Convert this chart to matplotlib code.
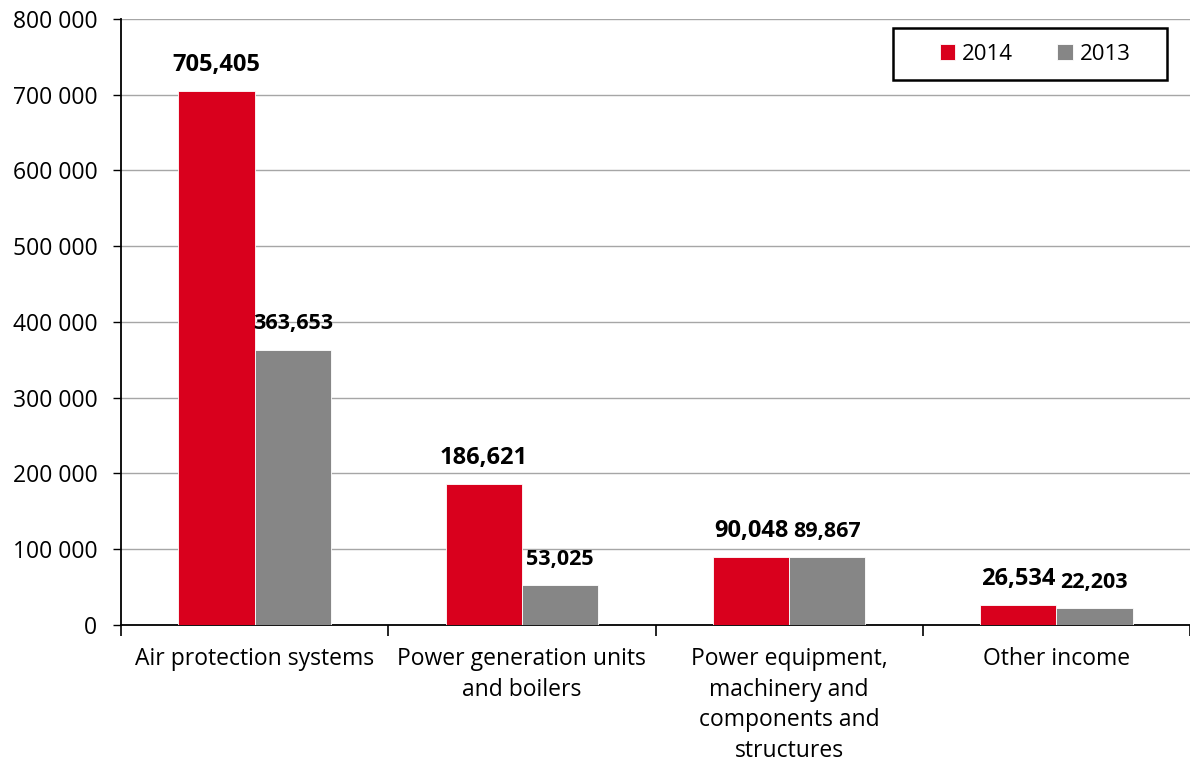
import matplotlib
matplotlib.use("Agg")
import matplotlib.pyplot as plt
from matplotlib.patches import Rectangle
import numpy as np

categories = ["Air protection systems", "Power generation units\nand boilers",
              "Power equipment,\nmachinery and\ncomponents and\nstructures", "Other income"]
values_2014 = [705405, 186621, 90048, 26534]
values_2013 = [363653, 53025, 89867, 22203]
y_ticks = [0, 100000, 200000, 300000, 400000, 500000, 600000, 700000, 800000]

RED = "#D9001D"
GRAY = "#868686"

plt.rcParams["font.family"] = ["Open Sans", "DejaVu Sans"]

fig = plt.figure(figsize=(11.9, 7.71), dpi=100)
ax = fig.add_axes([0.1017, 0.1894, 0.8983, 0.786])

x = np.arange(len(categories))
w = 0.285
b1 = ax.bar(x - w / 2, values_2014, w, color=RED, label="2014", zorder=3,
            edgecolor="white", linewidth=0.6)
b2 = ax.bar(x + w / 2, values_2013, w, color=GRAY, label="2013", zorder=3,
            edgecolor="white", linewidth=0.6)

for rect, v in zip(b1, values_2014):
    ax.annotate(f"{v:,}", (rect.get_x() + rect.get_width() / 2, v),
                xytext=(0, 10), textcoords="offset points", ha="center", va="bottom",
                fontsize=17, fontweight="bold")
for rect, v in zip(b2, values_2013):
    ax.annotate(f"{v:,}", (rect.get_x() + rect.get_width() / 2, v),
                xytext=(0, 11), textcoords="offset points", ha="center", va="bottom",
                fontsize=15.5, fontweight="bold")

ax.set_xlim(-0.5, len(categories) - 0.5)
ax.set_ylim(0, 800000)
ax.set_yticks(y_ticks)
ax.set_yticklabels([f"{t:,}".replace(",", " ") for t in y_ticks], fontsize=16.5)
ax.tick_params(axis="y", direction="out", length=6, width=1, pad=11)

# category ticks sit on the boundaries, labels centred under each group
ax.set_xticks(np.arange(len(categories) + 1) - 0.5)
ax.set_xticklabels([])
ax.set_xticks(x, minor=True)
ax.set_xticklabels(categories, minor=True, fontsize=16.5, linespacing=1.36, va="top")
ax.tick_params(axis="x", which="major", direction="out", length=8, width=1.2)
ax.tick_params(axis="x", which="minor", length=0, pad=16)

ax.grid(axis="y", color="#A6A6A6", linewidth=1, zorder=0)
ax.spines["top"].set_visible(False)
ax.spines["right"].set_visible(False)
ax.spines["left"].set_linewidth(1.3)
ax.spines["bottom"].set_linewidth(1.3)

# legend box drawn separately so the padding can be uneven
fig.patches.append(Rectangle((893 / 1190, 1 - 80 / 771), 274 / 1190, 52 / 771,
                             transform=fig.transFigure, facecolor="white",
                             edgecolor="black", linewidth=1.8, zorder=5))
leg = fig.legend(handles=[b1, b2], labels=["2014", "2013"], loc="center",
                 bbox_to_anchor=(1035 / 1190, 1 - 54 / 771), ncol=2, fontsize=16,
                 frameon=False, handlelength=0.7, handleheight=0.7,
                 handletextpad=0.3, columnspacing=2.0)
leg.set_zorder(6)

fig.savefig("out.png", dpi=100, facecolor="white")
